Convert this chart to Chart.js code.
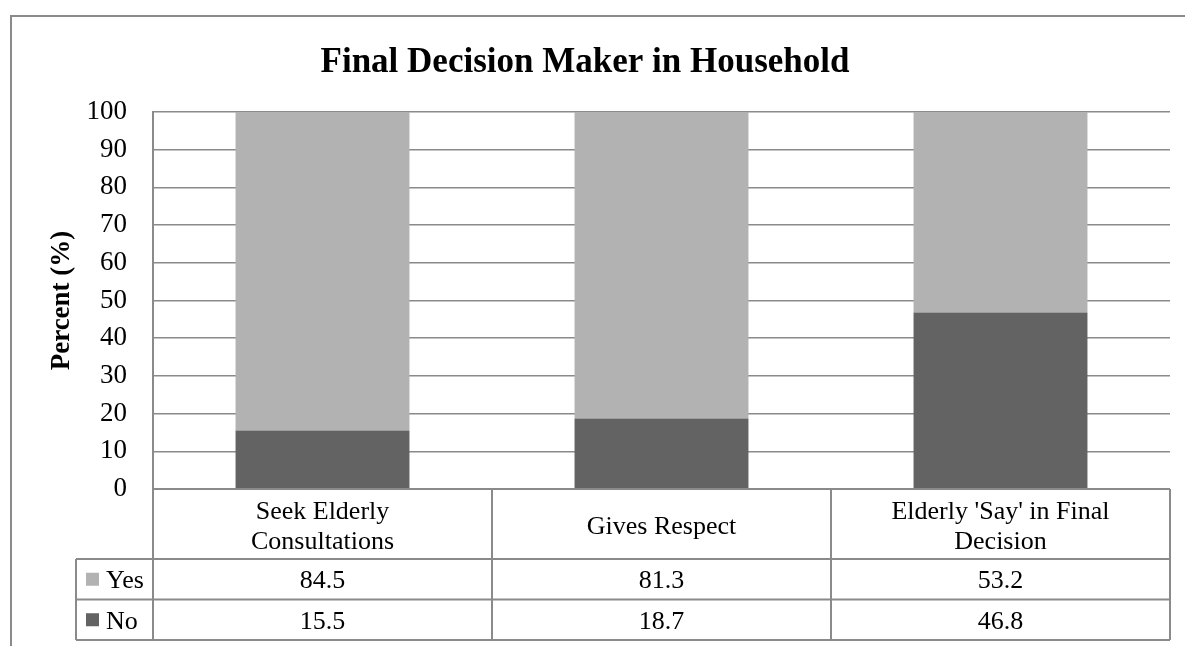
<!DOCTYPE html>
<html>
<head>
<meta charset="utf-8">
<script src="https://cdn.jsdelivr.net/npm/chart.js@4.4.1/dist/chart.umd.min.js"></script>
<style>
  html, body { margin: 0; padding: 0; background: #ffffff; }
  #wrap { width: 1185px; height: 646px; }
</style>
</head>
<body>
<div id="wrap"><canvas id="chart" width="1185" height="646"></canvas></div>
<script>
// Categories (multi-line labels shown in the data table header)
const categories = [
  ["Seek Elderly", "Consultations"],
  ["Gives Respect"],
  ["Elderly 'Say' in Final", "Decision"]
];
// Series values, percent
const yesValues = [84.5, 81.3, 53.2];
const noValues = [15.5, 18.7, 46.8];
const seriesNames = ["Yes", "No"];
const seriesColors = { Yes: "#b2b2b2", No: "#636363" };
// Y axis range and step
const yMin = 0;
const yMax = 100;
const yStep = 10;

const SERIF = "'Liberation Serif', 'Times New Roman', serif";
const LINE_COLOR = "#8a8a8a";

// Page frame and white background
const framePlugin = {
  id: "frame",
  beforeDraw(chart) {
    const ctx = chart.ctx;
    ctx.save();
    ctx.fillStyle = "#ffffff";
    ctx.fillRect(0, 0, chart.width, chart.height);
    ctx.strokeStyle = LINE_COLOR;
    ctx.lineWidth = 2;
    ctx.strokeRect(11, 16, chart.width + 40, chart.height + 40);
    ctx.restore();
  }
};

// Data table under the plot: category header row, then one row per series
const dataTablePlugin = {
  id: "dataTable",
  afterDraw(chart) {
    const ctx = chart.ctx;
    const area = chart.chartArea;
    const xs = chart.scales.x;
    const n = chart.data.labels.length;
    const colW = (area.right - area.left) / n;
    const headerH = 70;
    const rowH = 40.5;
    const keyW = 77;
    const top = area.bottom;
    const rowsTop = top + headerH;
    const bottom = rowsTop + rowH * 2;
    const keyLeft = area.left - keyW;

    ctx.save();
    ctx.strokeStyle = LINE_COLOR;
    ctx.lineWidth = 2;
    const line = (x1, y1, x2, y2) => {
      ctx.beginPath();
      ctx.moveTo(x1, y1);
      ctx.lineTo(x2, y2);
      ctx.stroke();
    };
    // horizontal rules
    line(area.left, top, area.right, top);
    line(keyLeft, rowsTop, area.right, rowsTop);
    line(keyLeft, rowsTop + rowH, area.right, rowsTop + rowH);
    line(keyLeft, bottom, area.right, bottom);
    // vertical rules
    line(keyLeft, rowsTop, keyLeft, bottom);
    line(area.left, top, area.left, bottom);
    for (let i = 0; i < n; i++) {
      const xr = xs.getPixelForValue(i) + colW / 2;
      line(xr, top, xr, bottom);
    }

    ctx.fillStyle = "#000000";
    ctx.font = "26px " + SERIF;
    ctx.textAlign = "center";
    ctx.textBaseline = "middle";
    // header: category names
    const lh = 30;
    chart.data.labels.forEach((lab, i) => {
      const lines = Array.isArray(lab) ? lab : [lab];
      const cx = xs.getPixelForValue(i);
      const cy = top + headerH / 2 + 3;
      const y0 = cy - (lines.length - 1) * lh / 2;
      lines.forEach((t, k) => ctx.fillText(t, cx, y0 + k * lh));
    });

    // series rows, Yes first then No
    const order = ["Yes", "No"];
    order.forEach((name, r) => {
      const ds = chart.data.datasets.find(d => d.label === name);
      const cy = rowsTop + rowH * r + rowH / 2;
      // legend key
      ctx.fillStyle = ds.backgroundColor;
      ctx.fillRect(keyLeft + 10, cy - 6.5, 13, 13);
      ctx.fillStyle = "#000000";
      ctx.textAlign = "left";
      ctx.fillText(name, keyLeft + 30, cy + 2);
      ctx.textAlign = "center";
      ds.data.forEach((v, i) => {
        ctx.fillText(v.toFixed(1), xs.getPixelForValue(i), cy + 2);
      });
    });
    ctx.restore();
  }
};

new Chart(document.getElementById("chart"), {
  type: "bar",
  data: {
    labels: categories,
    datasets: [
      { label: seriesNames[1], data: noValues, backgroundColor: seriesColors.No },
      { label: seriesNames[0], data: yesValues, backgroundColor: seriesColors.Yes }
    ]
  },
  options: {
    responsive: false,
    animation: false,
    devicePixelRatio: 1,
    layout: { padding: { left: 0, right: 15, top: 0, bottom: 157 } },
    datasets: { bar: { categoryPercentage: 0.513, barPercentage: 1.0 } },
    plugins: {
      legend: { display: false },
      tooltip: { enabled: false },
      title: {
        display: true,
        text: "Final Decision Maker in Household",
        color: "#000000",
        font: { family: SERIF, size: 35, weight: "bold", lineHeight: 1.2 },
        padding: { top: 42, bottom: 28 }
      }
    },
    scales: {
      x: {
        stacked: true,
        display: false
      },
      y: {
        stacked: true,
        min: yMin,
        max: yMax,
        afterFit(scale) { scale.width = 153; },
        ticks: {
          stepSize: yStep,
          padding: 26,
          color: "#000000",
          font: { family: SERIF, size: 27 }
        },
        grid: {
          color: LINE_COLOR,
          lineWidth: 1.5,
          drawTicks: false
        },
        border: { display: true, color: LINE_COLOR, width: 2 },
        title: {
          display: true,
          text: "Percent (%)",
          color: "#000000",
          font: { family: SERIF, size: 27, weight: "bold", lineHeight: 1.2 },
          padding: { top: 46, bottom: 0 }
        }
      }
    }
  },
  plugins: [framePlugin, dataTablePlugin]
});
</script>
</body>
</html>
